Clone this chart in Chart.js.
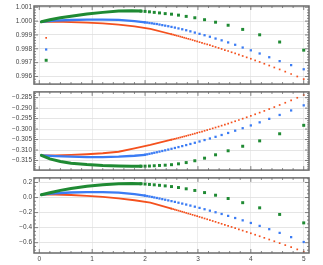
<!DOCTYPE html>
<html><head><meta charset="utf-8">
<script src="https://cdn.jsdelivr.net/npm/chart.js@4"></script>
<style>
html,body{margin:0;padding:0;background:#fff;}
#wrap{position:relative;width:323px;height:265px;overflow:hidden;}
.panel{position:absolute;left:0;width:323px;}
</style></head><body>
<div id="wrap">
  <div class="panel" style="top:0;height:90px"><canvas id="c1"></canvas></div>
  <div class="panel" style="top:86px;height:90px"><canvas id="c2"></canvas></div>
  <div class="panel" style="top:172px;height:93px"><canvas id="c3"></canvas></div>
</div>
<script>
// x positions of the separate markers (they get sparser towards x = 5)
const xOrange = [2.5,2.532,2.564,2.597,2.632,2.667,2.703,2.74,2.778,2.817,2.857,2.899,2.941,2.985,3.03,3.077,3.125,3.175,3.226,3.279,3.333,3.39,3.448,3.509,3.571,3.636,3.704,3.774,3.846,3.922,4.0,4.082,4.167,4.255,4.348,4.444,4.545,4.651,4.762,4.878,5.0];
const xBlue = [2.0,2.041,2.083,2.128,2.174,2.222,2.273,2.326,2.381,2.439,2.5,2.564,2.632,2.703,2.778,2.857,2.941,3.03,3.125,3.226,3.333,3.448,3.571,3.704,3.846,4.0,4.167,4.348,4.545,4.762,5.0];
const xGreen = [1.923,2.0,2.083,2.174,2.273,2.381,2.5,2.632,2.778,2.941,3.125,3.333,3.571,3.846,4.167,4.545,5.0];
// where the markers overlap into a solid band
const xOrangeDense = [0.04,0.3,0.6,0.9,1.2,1.5,1.8,2.1,2.5];
const xBlueDense = [0.04,0.3,0.6,0.9,1.2,1.5,1.8,2.0];
const xGreenDense = [0.04,0.2,0.4,0.6,0.9,1.2,1.5,1.75,1.923];
const xMark = 0.13;
const xTicks = [0,1,2,3,4,5];

// top panel
const topOrangeDense = [0.99995,0.99996,0.99993,0.99989,0.99983,0.99974,0.99962,0.99944,0.99905];
const topBlueDense = [0.99995,1.00004,1.00008,1.00011,1.00011,1.00009,1.00000,0.99991];
const topGreenDense = [0.99995,1.00010,1.00024,1.00035,1.00051,1.00063,1.00072,1.00074,1.00072];
const topOrange = [0.99905,0.99902,0.99899,0.99895,0.99892,0.99888,0.99884,0.99880,0.99876,0.99872,0.99868,0.99863,0.99858,0.99853,0.99848,0.99843,0.99837,0.99832,0.99826,0.99819,0.99813,0.99806,0.99799,0.99791,0.99784,0.99775,0.99767,0.99758,0.99748,0.99738,0.99728,0.99716,0.99705,0.99692,0.99679,0.99665,0.99651,0.99635,0.99618,0.99600,0.99581];
const topBlue = [0.99991,0.99989,0.99986,0.99984,0.99981,0.99979,0.99975,0.99971,0.99967,0.99963,0.99958,0.99953,0.99947,0.99941,0.99934,0.99926,0.99917,0.99908,0.99898,0.99887,0.99874,0.99861,0.99846,0.99829,0.99809,0.99789,0.99766,0.99739,0.99711,0.99682,0.99652];
const topGreen = [1.00072,1.00070,1.00067,1.00063,1.00059,1.00054,1.00050,1.00043,1.00034,1.00024,1.00010,0.99992,0.99970,0.99940,0.99901,0.99849,0.99790];
const topMarks = [0.99879,0.99795,0.99717]; // orange, blue, green
const topTicks = [0.996,0.997,0.998,0.999,1.000,1.001];

// middle panel
const midOrangeDense = [-0.31252,-0.31252,-0.31234,-0.31202,-0.31156,-0.31083,-0.30927,-0.30761,-0.30506];
const midBlueDense = [-0.31252,-0.31289,-0.31321,-0.31339,-0.31344,-0.31321,-0.31275,-0.31228];
const midGreenDense = [-0.31252,-0.31427,-0.31550,-0.31633,-0.31697,-0.31738,-0.31761,-0.31771,-0.31771];
const midOrange = [-0.30506,-0.30486,-0.30466,-0.30445,-0.30423,-0.30400,-0.30377,-0.30352,-0.30327,-0.30300,-0.30273,-0.30245,-0.30215,-0.30184,-0.30152,-0.30118,-0.30083,-0.30046,-0.30008,-0.29967,-0.29926,-0.29882,-0.29836,-0.29787,-0.29736,-0.29683,-0.29626,-0.29567,-0.29504,-0.29438,-0.29368,-0.29294,-0.29215,-0.29133,-0.29044,-0.28950,-0.28850,-0.28743,-0.28628,-0.28506,-0.28375];
const midBlue = [-0.31228,-0.31206,-0.31183,-0.31159,-0.31133,-0.31107,-0.31078,-0.31047,-0.31015,-0.30980,-0.30943,-0.30903,-0.30860,-0.30814,-0.30765,-0.30712,-0.30655,-0.30593,-0.30525,-0.30451,-0.30371,-0.30283,-0.30186,-0.30078,-0.29959,-0.29827,-0.29679,-0.29513,-0.29326,-0.29111,-0.28867];
const midGreen = [-0.31771,-0.31771,-0.31766,-0.31752,-0.31738,-0.31725,-0.31702,-0.31661,-0.31601,-0.31514,-0.31390,-0.31229,-0.31037,-0.30821,-0.30564,-0.30225,-0.29821];
const midTicks = [-0.315,-0.310,-0.305,-0.300,-0.295,-0.290,-0.285];

// bottom panel
const botOrangeDense = [0.03742,0.03871,0.03355,0.02194,0.00774,-0.01032,-0.03613,-0.06839,-0.14723];
const botBlueDense = [0.03742,0.05677,0.06710,0.07226,0.07226,0.06452,0.04645,0.02529];
const botGreenDense = [0.03742,0.06323,0.09548,0.12129,0.14968,0.17032,0.18194,0.18581,0.18323];
const botOrange = [-0.14723,-0.15368,-0.16026,-0.16697,-0.17419,-0.18129,-0.18877,-0.19639,-0.20439,-0.21252,-0.22090,-0.22968,-0.23858,-0.24787,-0.25755,-0.26761,-0.27794,-0.28877,-0.29987,-0.31135,-0.32323,-0.33587,-0.34877,-0.36232,-0.37626,-0.39097,-0.40645,-0.42245,-0.43910,-0.45665,-0.47484,-0.49419,-0.51432,-0.53535,-0.55780,-0.58116,-0.60580,-0.63213,-0.65974,-0.68903,-0.72000];
const botBlue = [0.02529,0.01974,0.01394,0.00774,0.00129,-0.00568,-0.01303,-0.02090,-0.02916,-0.03806,-0.04761,-0.05781,-0.06877,-0.08052,-0.09329,-0.10697,-0.12168,-0.13781,-0.15548,-0.17458,-0.19548,-0.21845,-0.24374,-0.27200,-0.30297,-0.33781,-0.37677,-0.42039,-0.46980,-0.52632,-0.59097];
const botGreen = [0.18323,0.17935,0.17419,0.16903,0.16258,0.15484,0.14581,0.13290,0.11613,0.09419,0.06581,0.03097,-0.01290,-0.06839,-0.13677,-0.22452,-0.33677];
const botTicks = [-0.6,-0.4,-0.2,0.0,0.2];

const COLORS = {orange:'#f4511e', blue:'#3b7cf4', green:'#1f8a33'};
const font = {family:'Liberation Sans', size:6.5};

function pts(xs, ys){ return xs.map((x,i)=>({x, y:ys[i]})); }

function buildDatasets(p){
  const out = [];
  const series = [
    ['green', xGreen, xGreenDense, 2.1, 3, 2],
    ['blue', xBlue, xBlueDense, 1.6, 2.3, 1],
    ['orange', xOrange, xOrangeDense, 1.2, 1.8, 0]
  ];
  series.forEach(([k, xs, xd, r, w, mi])=>{
    out.push({data:pts(xd, p[k+'Dense']), showLine:true, borderColor:COLORS[k], borderWidth:w,
      pointRadius:0, borderCapStyle:'round'});
    const sparse = pts(xs, p[k]);
    if (p.marks) sparse.unshift({x:xMark, y:p.marks[mi]});
    out.push({data:sparse, showLine:false, pointStyle:'rect', pointRadius:r,
      backgroundColor:COLORS[k], borderWidth:0});
  });
  return out;
}

// inward ticks on all four sides plus the grey frame
const frame = {
  id:'frame',
  afterDatasetsDraw(chart, args, o){
    const {ctx, chartArea:a} = chart;
    const sx = chart.scales.x, sy = chart.scales.y;
    const each = (sc, step, fn)=>{
      for (let i = Math.ceil(sc.min/step - 1e-6); i*step <= sc.max + 1e-9; i++) fn(sc.getPixelForValue(i*step), i);
    };
    ctx.save();
    ctx.strokeStyle = '#666';
    ctx.lineWidth = 0.8;
    ctx.beginPath();
    each(sx, o.xStep, (px,i)=>{
      const len = i % o.xEvery === 0 ? 4 : 2;
      ctx.moveTo(px, a.top); ctx.lineTo(px, a.top+len);
      ctx.moveTo(px, a.bottom); ctx.lineTo(px, a.bottom-len);
    });
    each(sy, o.yStep, (py,i)=>{
      const len = i % o.yEvery === 0 ? 4 : 2;
      ctx.moveTo(a.left, py); ctx.lineTo(a.left+len, py);
      ctx.moveTo(a.right, py); ctx.lineTo(a.right-len, py);
    });
    ctx.stroke();
    ctx.lineWidth = 1.5;
    ctx.strokeStyle = '#6a6a6a';
    ctx.strokeRect(a.left, a.top, a.width, a.height);
    ctx.restore();
  }
};

function fmt(v, d){
  if (Math.abs(v) < 1e-9) v = 0;
  return (v < 0 ? '\u2212' : '') + Math.abs(v).toFixed(d);
}

function makePanel(id, p){
  new Chart(document.getElementById(id), {
    type:'scatter',
    data:{datasets:buildDatasets(p)},
    options:{
      responsive:true, maintainAspectRatio:false, animation:false, devicePixelRatio:1,
      events:[],
      layout:{padding:{left:0, right:14, top:p.padTop, bottom:p.padBottom}},
      plugins:{legend:{display:false}, tooltip:{enabled:false},
        frame:{xStep:0.2, xEvery:5, yStep:p.minor, yEvery:p.every}},
      scales:{
        x:{type:'linear', min:-0.1, max:5.1,
          afterBuildTicks:s=>{ s.ticks = xTicks.map(v=>({value:v})); },
          afterFit:s=>{ s.height = p.showX ? 12 : 0; },
          ticks:{display:p.showX, font, color:'#444', padding:2, maxRotation:0, callback:v=>String(v)},
          grid:{color:'#e8e8e8', lineWidth:0.8, drawTicks:false},
          border:{display:false}},
        y:{min:p.min, max:p.max,
          afterBuildTicks:s=>{ s.ticks = p.ticks.map(v=>({value:v})); },
          afterFit:s=>{ s.width = 34; },
          ticks:{font, color:'#444', padding:2, callback:v=>fmt(v, p.dec)},
          grid:{color:'#dedede', lineWidth:0.8, drawTicks:false},
          border:{display:false}}
      }
    },
    plugins:[frame]
  });
}

makePanel('c1', {orange:topOrange, blue:topBlue, green:topGreen,
  orangeDense:topOrangeDense, blueDense:topBlueDense, greenDense:topGreenDense, marks:topMarks,
  min:0.99545, max:1.00109, ticks:topTicks, dec:3, minor:0.0002, every:5,
  padTop:6, padBottom:5, showX:false});
makePanel('c2', {orange:midOrange, blue:midBlue, green:midGreen,
  orangeDense:midOrangeDense, blueDense:midBlueDense, greenDense:midGreenDense,
  min:-0.3196, max:-0.28225, ticks:midTicks, dec:3, minor:0.001, every:5,
  padTop:4, padBottom:5, showX:false});
makePanel('c3', {orange:botOrange, blue:botBlue, green:botGreen,
  orangeDense:botOrangeDense, blueDense:botBlueDense, greenDense:botGreenDense,
  min:-0.737, max:0.261, ticks:botTicks, dec:1, minor:0.05, every:4,
  padTop:4, padBottom:0, showX:true});
</script>
</body></html>
